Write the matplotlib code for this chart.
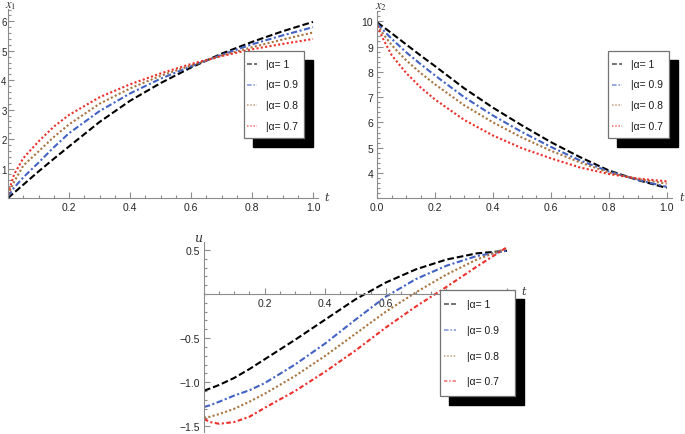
import matplotlib.pyplot as plt
import matplotlib.patches as mpatches
from matplotlib.lines import Line2D
from matplotlib.ticker import FixedLocator, MultipleLocator, FuncFormatter

plt.rcParams['font.family'] = ['Liberation Sans', 'DejaVu Sans']
plt.rcParams['mathtext.fontset'] = 'stix'

# data
t = [0.0, 0.02, 0.05, 0.1, 0.15, 0.2, 0.3, 0.4, 0.5, 0.6, 0.7, 0.8, 0.9, 1.0]
alphas = ['1', '0.9', '0.8', '0.7']

x1_a10 = [0.0, 0.18, 0.45, 0.9, 1.33, 1.75, 2.58, 3.3, 3.9, 4.43, 4.9, 5.3, 5.66, 5.98]
x1_a09 = [0.05, 0.35, 0.7, 1.2, 1.72, 2.2, 2.95, 3.55, 4.05, 4.47, 4.86, 5.22, 5.52, 5.8]
x1_a08 = [0.1, 0.55, 1.1, 1.58, 2.07, 2.5, 3.2, 3.72, 4.15, 4.5, 4.83, 5.12, 5.38, 5.62]
x1_a07 = [0.15, 0.8, 1.35, 1.92, 2.42, 2.82, 3.42, 3.86, 4.23, 4.55, 4.82, 5.05, 5.23, 5.4]

x2_a10 = [9.95, 9.78, 9.52, 9.08, 8.64, 8.22, 7.35, 6.58, 5.88, 5.22, 4.63, 4.1, 3.72, 3.41]
x2_a09 = [9.9, 9.65, 9.3, 8.77, 8.3, 7.85, 7.0, 6.27, 5.62, 5.03, 4.5, 4.06, 3.73, 3.45]
x2_a08 = [9.85, 9.5, 9.05, 8.45, 7.95, 7.5, 6.68, 6.0, 5.4, 4.88, 4.42, 4.02, 3.76, 3.58]
x2_a07 = [9.8, 9.3, 8.65, 7.95, 7.38, 6.9, 6.1, 5.48, 4.98, 4.58, 4.22, 3.96, 3.78, 3.67]

u_a10 = [-1.095, -1.07, -1.03, -0.95, -0.85, -0.74, -0.52, -0.29, -0.06, 0.13, 0.28, 0.39, 0.46, 0.49]
u_a09 = [-1.28, -1.26, -1.22, -1.15, -1.09, -1.01, -0.8, -0.56, -0.29, -0.03, 0.17, 0.32, 0.43, 0.49]
u_a08 = [-1.40, -1.39, -1.36, -1.30, -1.22, -1.13, -0.93, -0.7, -0.45, -0.2, 0.02, 0.22, 0.39, 0.52]
u_a07 = [-1.415, -1.45, -1.47, -1.45, -1.39, -1.29, -1.1, -0.88, -0.64, -0.38, -0.14, 0.08, 0.31, 0.53]

colors = ['#000000', '#4262c4', '#a8733f', '#ec2f2a']
styles_top = [(0, (3.2, 1.4)), (0, (3.0, 1.2, 1.0, 1.2)), (0, (1.0, 1.1)), (0, (1.0, 1.1))]
styles_bot = [(0, (3.2, 1.4)), (0, (3.0, 1.2, 1.0, 1.2)), (0, (1.0, 1.1)), (0, (2.2, 1.2, 1.0, 1.2))]

W, H = 685, 435
fig = plt.figure(figsize=(W / 100, H / 100), dpi=100)


def px(x, y):
    # figure pixel (from top-left) -> figure fraction
    return x / W, 1 - y / H


def fmt(pattern):
    return FuncFormatter(lambda v, pos: (pattern % v).replace('-', '\u2212'))


def style_axes(ax, xmaj, ymaj, xminor, yminor, yfmt):
    for s in ['top', 'right']:
        ax.spines[s].set_visible(False)
    for s in ['left', 'bottom']:
        ax.spines[s].set_color('0.55')
        ax.spines[s].set_linewidth(0.8)
    ax.xaxis.set_major_locator(FixedLocator(xmaj))
    ax.yaxis.set_major_locator(FixedLocator(ymaj))
    ax.xaxis.set_minor_locator(MultipleLocator(xminor))
    ax.yaxis.set_minor_locator(MultipleLocator(yminor))
    ax.xaxis.set_major_formatter(fmt('%.1f'))
    ax.yaxis.set_major_formatter(fmt(yfmt))
    ax.tick_params(which='both', direction='in', color='0.55', width=0.8,
                   labelsize=7.5, labelcolor='0.15', pad=3)
    ax.tick_params(which='major', length=4)
    ax.tick_params(which='minor', length=2)
    ax.patch.set_alpha(0)


def draw_legend(box, rows, sample_x, text_x, styles):
    x0, y0, x1, y1 = box
    # black drop shadow, then white frame
    sx, sy = px(x0 + 9, y1 + 9)
    fig.add_artist(mpatches.Rectangle((sx, sy), (x1 - x0) / W, (y1 - y0) / H,
                                      transform=fig.transFigure, facecolor='black',
                                      edgecolor='black', zorder=5))
    bx, by = px(x0, y1)
    fig.add_artist(mpatches.Rectangle((bx, by), (x1 - x0) / W, (y1 - y0) / H,
                                      transform=fig.transFigure, facecolor='white',
                                      edgecolor='0.45', linewidth=0.9, zorder=6))
    for ry, c, ls, a in zip(rows, colors, styles, alphas):
        la, lb = px(sample_x[0], ry)
        lc, _ = px(sample_x[1], ry)
        fig.add_artist(Line2D([la, lc], [lb, lb], transform=fig.transFigure, color=c,
                              linestyle=ls, linewidth=1.1, alpha=0.7, zorder=7))
        tx, ty = px(text_x, ry)
        fig.text(tx, ty, '|\u03b1= ' + a, fontsize=7.5, va='center', ha='left',
                 color='0.1', zorder=8)


def label(x, y, s, size=8):
    fx, fy = px(x, y)
    fig.text(fx, fy, s, fontsize=size, ha='center', va='center', color='0.2',
             fontstyle='italic', family='DejaVu Serif')


# panel x1
ax1 = fig.add_axes([8 / W, 1 - 199 / H, 310 / W, 189 / H])
for y, c, ls in zip([x1_a10, x1_a09, x1_a08, x1_a07], colors, styles_top):
    ax1.plot(t, y, color=c, linestyle=ls, linewidth=1.5)
ax1.set_xlim(0, 310 / 305)
ax1.set_ylim(0, 189 / 29.45)
style_axes(ax1, [0.2, 0.4, 0.6, 0.8, 1.0], [1, 2, 3, 4, 5, 6], 0.05, 0.2, '%d')
# the panel sits at the figure's left edge, keep its y labels inside
ax1.tick_params(axis='y', which='major', pad=1, labelsize=7)

# panel x2
ax2 = fig.add_axes([377.3 / W, 1 - 199.3 / H, 294.7 / W, 187.3 / H])
for y, c, ls in zip([x2_a10, x2_a09, x2_a08, x2_a07], colors, styles_top):
    ax2.plot(t, y, color=c, linestyle=ls, linewidth=1.5)
ax2.set_xlim(0, 294.7 / 289.4)
ax2.set_ylim(3.0, 3.0 + 187.3 / 25.3)
style_axes(ax2, [0.0, 0.2, 0.4, 0.6, 0.8, 1.0], [4, 5, 6, 7, 8, 9, 10], 0.05, 0.2, '%d')

# panel u
ax3 = fig.add_axes([204 / W, 1 - 433 / H, 308 / W, 190 / H])
for y, c, ls in zip([u_a10, u_a09, u_a08, u_a07], colors, styles_bot):
    ax3.plot(t, y, color=c, linestyle=ls, linewidth=1.5)
ax3.set_xlim(0, 308 / 303)
ax3.set_ylim(-138 / 88.3, 52 / 88.3)
style_axes(ax3, [0.2, 0.4, 0.6, 0.8, 1.0], [-1.5, -1.0, -0.5, 0.5], 0.05, 0.1, '%.1f')
ax3.spines['bottom'].set_position(('data', 0))

# axis names
label(11, 6, r'$x_1$', 9)
label(381, 7, r'$x_2$', 9)
label(198, 239, 'u', 9)
label(327, 198, 't')
label(682, 198, 't')
label(524, 292, 't')

# legends
draw_legend((244.3, 52.3, 304, 139), [65, 85.5, 106, 126.7], (247, 257), 266.5, styles_top)
draw_legend((608.3, 52.3, 669, 139), [65, 85.5, 106, 126.7], (611.5, 622), 631, styles_top)
draw_legend((440, 291, 515, 396.7), [305, 331, 356.7, 381.7], (444, 456), 467, styles_bot)

fig.savefig('out.png', dpi=100)
